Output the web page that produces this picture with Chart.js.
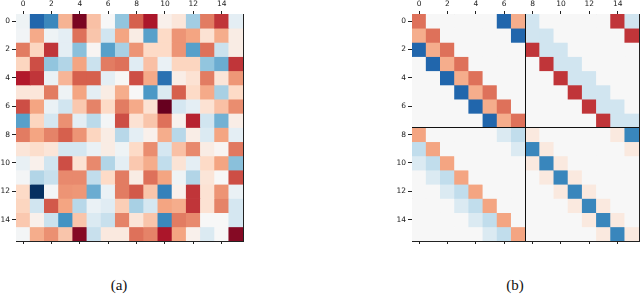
<!DOCTYPE html>
<html><head><meta charset="utf-8">
<script src="https://cdn.jsdelivr.net/npm/chart.js@4/dist/chart.umd.min.js"></script>
<style>
html,body{margin:0;padding:0;background:#fff;width:640px;height:294px;overflow:hidden;}
canvas{position:absolute;top:0;}
.cap{position:absolute;top:276px;font-family:"Liberation Serif","Times New Roman","DejaVu Serif",serif;font-size:15px;font-weight:normal;color:#111;text-align:center;width:60px;line-height:18px;}
</style></head><body>
<canvas id="ca" width="250" height="250" style="left:0"></canvas>
<canvas id="cb" width="244" height="250" style="left:396px"></canvas>
<div class="cap" style="left:89px">(a)</div>
<div class="cap" style="left:485px">(b)</div>
<script>
// categories (column / row indices) and tick labels
const colLabels = ['0','1','2','3','4','5','6','7','8','9','10','11','12','13','14','15'];
const tickLabels = [0, 2, 4, 6, 8, 10, 12, 14];
const blockSize = 8;

// panel (a) values, one array per row
const valuesA = [
  [-0.05,-0.8,-0.65,0.35,0.95,0.3,0,-0.4,0.6,0.82,0.05,0.12,-0.35,0.52,0.72,-0.1],
  [-0.03,0.38,-0.05,-0.1,0.55,0.28,-0.2,0.4,0.08,-0.55,0.2,0.45,0.4,0.15,0.37,0.08],
  [0.52,0.22,0.72,-0.1,-0.42,0.02,-0.55,-0.33,0.45,0.2,0.2,0.45,-0.55,0.55,-0.22,0.08],
  [0.22,0.65,-0.4,-0.3,0.4,-0.22,0.52,0.55,-0.12,0.3,-0.07,0.22,0.22,-0.4,-0.5,0.72],
  [0.8,0.72,-0.07,0.34,0.6,0.6,-0.1,0.01,0.65,0.38,-0.75,0.07,0.15,0.52,0.13,0.44],
  [0.12,0.12,0.52,-0.05,0.4,-0.1,0.08,0.37,0,-0.58,-0.15,0.6,0.2,0.38,-0.33,0.2],
  [0.65,0.4,-0.07,-0.2,0.27,0.5,0.2,0.52,0.38,0.15,1.0,-0.18,-0.1,0.15,0.3,0.47],
  [-0.55,0.22,-0.18,0.46,-0.1,-0.27,-0.02,0.65,0.15,0.28,0.55,0.04,0.77,-0.2,-0.48,0.07],
  [0.52,0.4,0.5,0.6,0.45,0.22,0.08,-0.28,-0.1,0.05,0.37,-0.28,0.07,-0.15,0.4,-0.1],
  [0.13,0.18,0.13,-0.18,-0.18,-0.07,0.08,-0.05,0.2,0.47,-0.18,0.3,0.48,0.08,0.02,0.53],
  [-0.08,0.05,-0.2,0.65,0.15,0.48,-0.3,-0.1,0.27,0.37,-0.25,0.14,-0.1,0.2,0.4,-0.42],
  [-0.02,-0.3,-0.23,0.48,0.48,-0.25,0.2,0.52,0.08,0.55,0.4,-0.05,-0.3,0.13,0,0.65],
  [0.2,-1.0,-0.02,0.45,0.44,-0.5,-0.07,0.52,0.62,0.28,-0.68,0.05,0.72,0.15,0.45,-0.07],
  [0.22,-0.2,0.62,0.4,-0.28,-0.07,-0.12,0.25,-0.33,-0.18,0.4,0.37,0.72,0.15,0.5,-0.18],
  [0.27,0.05,-0.22,-0.6,0.28,-0.15,-0.23,0.5,0.13,0.28,-0.65,0.52,0.48,0,0,-0.18],
  [-0.02,0.37,0.46,0.28,0.92,-0.23,0.1,0.1,0.55,0.5,0.82,0.4,0.05,-0.15,0,0.92]
];

// panel (b) values, one array per row
const valuesB = [
  [0.55,0,0,0,0,0,-0.8,0.37,-0.2,0,0,0,0,0,0.72,-0.2],
  [0.37,0.55,0,0,0,0,0,-0.8,-0.2,-0.2,0,0,0,0,0,0.72],
  [-0.8,0.37,0.55,0,0,0,0,0,0.72,-0.2,-0.2,0,0,0,0,0],
  [0,-0.8,0.37,0.55,0,0,0,0,0,0.72,-0.2,-0.2,0,0,0,0],
  [0,0,-0.8,0.37,0.55,0,0,0,0,0,0.72,-0.2,-0.2,0,0,0],
  [0,0,0,-0.8,0.37,0.55,0,0,0,0,0,0.72,-0.2,-0.2,0,0],
  [0,0,0,0,-0.8,0.37,0.55,0,0,0,0,0,0.72,-0.2,-0.2,0],
  [0,0,0,0,0,-0.8,0.37,0.55,0,0,0,0,0,0.72,-0.2,-0.2],
  [0.4,0,0,0,0,0,-0.15,-0.25,0.1,0,0,0,0,0,0.1,-0.66],
  [-0.25,0.4,0,0,0,0,0,-0.15,-0.66,0.1,0,0,0,0,0,0.1],
  [-0.15,-0.25,0.4,0,0,0,0,0,0.1,-0.66,0.1,0,0,0,0,0],
  [0,-0.15,-0.25,0.4,0,0,0,0,0,0.1,-0.66,0.1,0,0,0,0],
  [0,0,-0.15,-0.25,0.4,0,0,0,0,0,0.1,-0.66,0.1,0,0,0],
  [0,0,0,-0.15,-0.25,0.4,0,0,0,0,0,0.1,-0.66,0.1,0,0],
  [0,0,0,0,-0.15,-0.25,0.4,0,0,0,0,0,0.1,-0.66,0.1,0],
  [0,0,0,0,0,-0.15,-0.25,0.4,0,0,0,0,0,0.1,-0.66,0.1]
];

// RdBu_r colormap
const rdbu = ['#053061','#2166ac','#4393c3','#92c5de','#d1e5f0','#f7f7f7','#fddbc7','#f4a582','#d6604d','#b2182b','#67001f'];
function hex(h){return [parseInt(h.slice(1,3),16),parseInt(h.slice(3,5),16),parseInt(h.slice(5,7),16)];}
function cmap(v){
  const t=(Math.max(-1,Math.min(1,v))+1)/2*10;
  const i=Math.min(9,Math.floor(t)); const f=t-i;
  const a=hex(rdbu[i]), b=hex(rdbu[i+1]);
  return 'rgb('+a.map((c,k)=>Math.round(c+(b[k]-c)*f)).join(',')+')';
}

const INK='#222';
const tickFont={family:'DejaVu Sans',size:7.5};

function makeChart(id, values, extraPlugins, rightW){
  const datasets = values.map((row,r)=>({
    label:'row '+r,
    data: row.map(()=>1),
    backgroundColor: row.map(cmap),
    stack:'s', barPercentage:1, categoryPercentage:1,
    borderWidth:0, inflateAmount:0.35
  }));
  const gridColor = ctx => (ctx.index%2 ? 'rgba(0,0,0,0)' : INK);
  return new Chart(document.getElementById(id),{
    type:'bar',
    data:{labels:colLabels, datasets},
    plugins: extraPlugins,
    options:{
      responsive:false, animation:false,
      layout:{padding:0},
      plugins:{legend:{display:false}, tooltip:{enabled:false}},
      scales:{
        x:{type:'category', position:'top', stacked:true, offset:true, z:1,
           grid:{offset:false, drawOnChartArea:false, tickLength:3, color:gridColor},
           border:{display:true, color:INK, width:1},
           ticks:{autoSkip:false, maxRotation:0, font:tickFont, color:INK, padding:2,
                  callback:(v,i)=> (i%2 ? '' : colLabels[i])},
           afterFit:s=>{s.height=14;}},
        x2:{type:'category', position:'bottom', offset:true, z:1,
           grid:{offset:false, drawOnChartArea:false, tickLength:3, color:gridColor},
           border:{display:true, color:INK, width:1},
           ticks:{autoSkip:false, maxRotation:0, font:tickFont, callback:()=> ''},
           afterFit:s=>{s.height=9;}},
        y:{type:'linear', position:'left', stacked:true, reverse:true, min:0, max:16, z:1,
           afterBuildTicks:s=>{ s.ticks = tickLabels.map(v=>({value:v+0.5})); },
           grid:{drawOnChartArea:false, tickLength:4, color:INK},
           border:{display:true, color:INK, width:1},
           ticks:{autoSkip:false, font:tickFont, color:INK, padding:2,
                  callback:v=> String(Math.round(v-0.5))},
           afterFit:s=>{s.width=16;}},
        y2:{type:'linear', position:'right', min:0, max:16, z:1,
           grid:{display:false}, ticks:{display:false},
           border:{display:true, color:INK, width:1},
           afterFit:s=>{s.width=rightW;}}
      }
    }
  });
}

const dividers = {
  id:'dividers',
  afterDatasetsDraw(chart){
    const {ctx, chartArea:a, scales:{x,y}} = chart;
    const xm=(x.getPixelForValue(blockSize-1)+x.getPixelForValue(blockSize))/2;
    const ym=y.getPixelForValue(blockSize);
    ctx.save(); ctx.strokeStyle='#111'; ctx.lineWidth=1;
    ctx.beginPath();
    ctx.moveTo(xm,a.top); ctx.lineTo(xm,a.bottom);
    ctx.moveTo(a.left,ym); ctx.lineTo(a.right,ym);
    ctx.stroke(); ctx.restore();
  }
};

makeChart('ca', valuesA, [], 7);
makeChart('cb', valuesB, [dividers], 1);
</script>
</body></html>
